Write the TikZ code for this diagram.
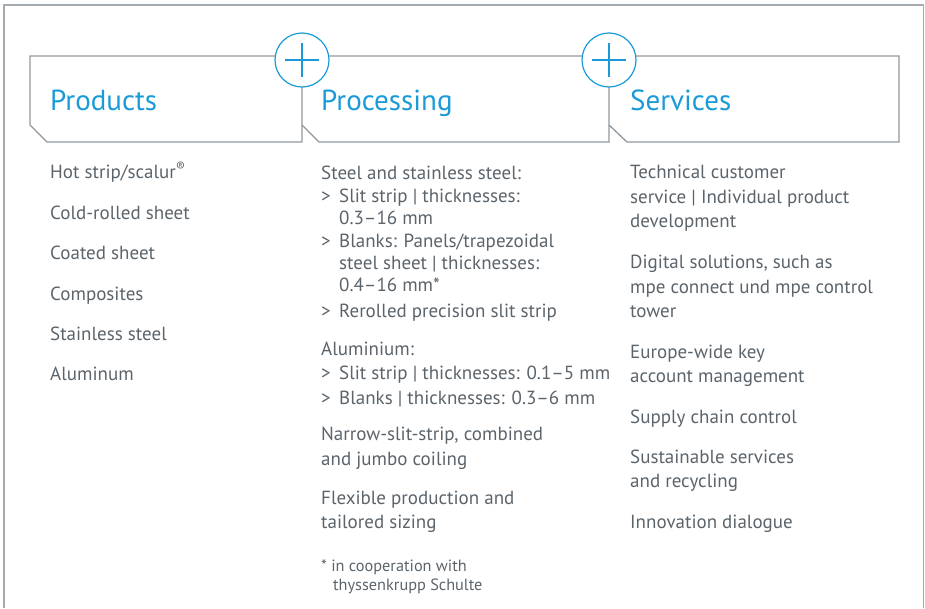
\documentclass[tikz,border=0pt]{standalone}
\usepackage{fontspec}
\setmainfont{PT Sans}
\definecolor{tkblue}{HTML}{1A9BD7}
\definecolor{tkline}{HTML}{8F989E}
\definecolor{tkframe}{HTML}{A3ABB1}
\definecolor{tktext}{HTML}{5B646B}
\begin{document}
\begin{tikzpicture}[x=1pt,y=-1pt,
  boxline/.style={draw=tkline,line width=1.3pt,line join=miter},
  frameline/.style={draw=tkframe,line width=1.8pt},
  plusring/.style={circle,draw=tkblue,fill=white,line width=1.2pt,minimum size=54pt,inner sep=0pt},
  plusbar/.style={draw=tkblue,line width=1.2pt},
  title/.style={anchor=base west,inner sep=0pt,text=tkblue,font=\fontsize{29}{33}\selectfont},
  body/.style={anchor=base west,inner sep=0pt,text=tktext,font=\fontsize{19}{22}\selectfont},
  small/.style={anchor=base west,inner sep=0pt,text=tktext,font=\fontsize{16.3}{19}\selectfont}]
\useasboundingbox (0,0) rectangle (925,608);
% outer frame
\coordinate (fbl) at (4,608);
\coordinate (ftl) at (4,5);
\coordinate (ftr) at (923.5,5);
\coordinate (fbr) at (923.5,608);
\draw[frameline] (fbl) -- (ftl) -- (ftr) -- (fbr);
% header boxes
\draw[boxline] (302,87) -- (302,142) -- (47,142) -- (30,125) -- (30,56) -- (899,56) -- (899,142) -- (627,142) -- (609,125);
\draw[boxline] (609,87) -- (609,142) -- (319,142) -- (302,125);
% plus circles
\node[plusring] (plusA) at (302,60) {};
\draw[plusbar] ([xshift=-17pt]plusA.center) -- ([xshift=17pt]plusA.center);
\draw[plusbar] ([yshift=-17pt]plusA.center) -- ([yshift=17pt]plusA.center);
\node[plusring] (plusB) at (609,60) {};
\draw[plusbar] ([xshift=-17pt]plusB.center) -- ([xshift=17pt]plusB.center);
\draw[plusbar] ([yshift=-17pt]plusB.center) -- ([yshift=17pt]plusB.center);
% titles
\node[title] (tProducts) at (50,110) {Products};
\node[title] (tProcessing) at (321,110) {Processing};
\node[title] (tServices) at (630,110) {Services};
% products column
\foreach \yy/\tt [count=\i] in {178/{Hot strip/scalur\textsuperscript{®}},219/{Cold-rolled sheet},259/{Coated sheet},300/{Composites},340/{Stainless steel},380/{Aluminum}}
  \node[body] (prod\i) at (50,\yy) {\tt};
% processing column
\foreach \yy/\tt [count=\i] in {179/{Steel and stainless steel:},355/{Aluminium:},440/{Narrow-slit-strip, combined},465/{and jumbo coiling},504/{Flexible production and},528/{tailored sizing}}
  \node[body] (proc\i) at (321,\yy) {\tt};
\foreach \yy [count=\i] in {202,247,317,379,404}
  \node[body] (chev\i) at (321,\yy) {>};
\foreach \yy/\tt [count=\i] in {202/{Slit strip | thicknesses:},224/{0.3–16 mm},247/{Blanks: Panels/trapezoidal},269/{steel sheet | thicknesses:},291/{0.4–16 mm*},317/{Rerolled precision slit strip},379/{Slit strip | thicknesses: 0.1–5 mm},404/{Blanks | thicknesses: 0.3–6 mm}}
  \node[body] (sub\i) at (339,\yy) {\tt};
\node[small] (note1) at (321,571) {* in cooperation with};
\node[small] (note2) at (333,590) {thyssenkrupp Schulte};
% services column
\foreach \yy/\tt [count=\i] in {178/{Technical customer},203/{service | Individual product},227/{development},268/{Digital solutions, such as},293/{mpe connect und mpe control},317/{tower},358/{Europe-wide key},382/{account management},423/{Supply chain control},463/{Sustainable services},487/{and recycling},528/{Innovation dialogue}}
  \node[body] (serv\i) at (630,\yy) {\tt};
\end{tikzpicture}
\end{document}
